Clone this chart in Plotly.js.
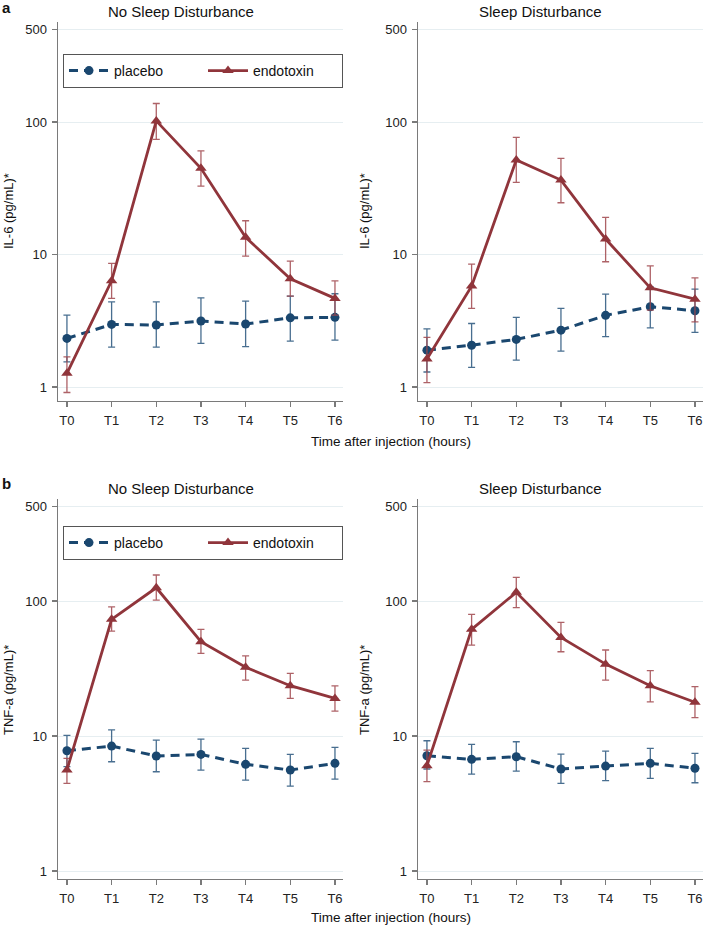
<!DOCTYPE html>
<html>
<head>
<meta charset="utf-8">
<script src="https://cdn.plot.ly/plotly-3.0.1.min.js"></script>
<style>html,body{margin:0;padding:0;background:#fff;}#chart{width:703px;height:927px;}</style>
</head>
<body>
<div id="chart"></div>
<script>
// ---- Data ----
const categories = ["T0", "T1", "T2", "T3", "T4", "T5", "T6"];
const yTickVals = [1, 10, 100, 500];
const yTickText = ["1", "10", "100", "500"];

// IL-6, No Sleep Disturbance
const il6NoPlacebo   = [2.33, 2.97, 2.94, 3.15, 2.99, 3.33, 3.36];
const il6NoPlaceboHi = [3.49, 4.40, 4.40, 4.72, 4.45, 4.86, 5.06];
const il6NoPlaceboLo = [1.55, 2.00, 2.00, 2.14, 2.02, 2.22, 2.26];
const il6NoEndo      = [1.27, 6.34, 102, 44.8, 13.5, 6.57, 4.67];
const il6NoEndoHi    = [1.69, 8.58, 138, 60.7, 18.0, 8.93, 6.34];
const il6NoEndoLo    = [0.91, 4.67, 74, 32.9, 9.75, 4.86, 3.49];

// IL-6, Sleep Disturbance
const il6DisPlacebo   = [1.90, 2.07, 2.29, 2.69, 3.48, 4.04, 3.77];
const il6DisPlaceboHi = [2.75, 3.02, 3.36, 3.93, 5.03, 5.71, 5.49];
const il6DisPlaceboLo = [1.30, 1.41, 1.60, 1.87, 2.40, 2.80, 2.59];
const il6DisEndo      = [1.63, 5.78, 51.7, 36.5, 13.1, 5.61, 4.61];
const il6DisEndoHi    = [2.37, 8.48, 76.7, 53.2, 19.1, 8.23, 6.68];
const il6DisEndoLo    = [1.08, 3.93, 35.1, 24.6, 8.83, 3.81, 3.11];

// TNF-a, No Sleep Disturbance
const tnfNoPlacebo   = [7.78, 8.43, 7.11, 7.31, 6.17, 5.60, 6.28];
const tnfNoPlaceboHi = [10.1, 11.1, 9.34, 9.50, 8.10, 7.31, 8.25];
const tnfNoPlaceboLo = [5.93, 6.45, 5.44, 5.60, 4.72, 4.26, 4.80];
const tnfNoEndo      = [5.60, 73.2, 125.5, 50.0, 32.3, 23.6, 19.0];
const tnfNoEndoHi    = [6.84, 90.7, 156, 61.7, 39.3, 29.1, 23.5];
const tnfNoEndoLo    = [4.46, 59.9, 101.7, 41.0, 26.0, 19.0, 15.3];

// TNF-a, Sleep Disturbance
const tnfDisPlacebo   = [7.14, 6.72, 7.03, 5.70, 5.99, 6.28, 5.77];
const tnfDisPlaceboHi = [9.23, 8.67, 9.07, 7.35, 7.74, 8.10, 7.44];
const tnfDisPlaceboLo = [5.70, 5.23, 5.50, 4.46, 4.67, 4.86, 4.51];
const tnfDisEndo      = [6.03, 61.7, 116, 53.8, 34.1, 23.6, 17.8];
const tnfDisEndoHi    = [7.87, 79.7, 150, 69.5, 43.4, 30.5, 23.2];
const tnfDisEndoLo    = [4.59, 47.2, 89.3, 42.1, 26.0, 17.9, 13.7];

// ---- Styling ----
const FONT = "Liberation Sans, Arial, Helvetica, sans-serif";
const NAVY = "#1a476f", NAVY_ERR = "rgba(40,85,125,0.85)";
const MAROON = "#90353b", MAROON_ERR = "rgba(160,70,76,0.85)";
const AX = "#7a7a7a";

function placeboTrace(y, hi, lo, xa, ya, legend, show) {
  return {
    type: "scatter", mode: "lines+markers", name: "placebo",
    x: categories, y: y, xaxis: xa, yaxis: ya, legend: legend, showlegend: show,
    line: {color: NAVY, width: 3, dash: "9px,6px"},
    marker: {color: NAVY, size: 9, symbol: "circle"},
    error_y: {type: "data", symmetric: false,
      array: hi.map((h, i) => h - y[i]), arrayminus: lo.map((l, i) => y[i] - l),
      color: NAVY_ERR, thickness: 1.3, width: 3.5}
  };
}
function endoTrace(y, hi, lo, xa, ya, legend, show) {
  return {
    type: "scatter", mode: "lines+markers", name: "endotoxin",
    x: categories, y: y, xaxis: xa, yaxis: ya, legend: legend, showlegend: show,
    line: {color: MAROON, width: 2.8},
    marker: {color: MAROON, size: 10, symbol: "triangle-up"},
    error_y: {type: "data", symmetric: false,
      array: hi.map((h, i) => h - y[i]), arrayminus: lo.map((l, i) => y[i] - l),
      color: MAROON_ERR, thickness: 1.3, width: 3.5}
  };
}

const data = [
  placeboTrace(il6NoPlacebo, il6NoPlaceboHi, il6NoPlaceboLo, "x", "y", "legend", true),
  endoTrace(il6NoEndo, il6NoEndoHi, il6NoEndoLo, "x", "y", "legend", true),
  placeboTrace(il6DisPlacebo, il6DisPlaceboHi, il6DisPlaceboLo, "x2", "y2", "legend", false),
  endoTrace(il6DisEndo, il6DisEndoHi, il6DisEndoLo, "x2", "y2", "legend", false),
  placeboTrace(tnfNoPlacebo, tnfNoPlaceboHi, tnfNoPlaceboLo, "x3", "y3", "legend2", true),
  endoTrace(tnfNoEndo, tnfNoEndoHi, tnfNoEndoLo, "x3", "y3", "legend2", true),
  placeboTrace(tnfDisPlacebo, tnfDisPlaceboHi, tnfDisPlaceboLo, "x4", "y4", "legend2", false),
  endoTrace(tnfDisEndo, tnfDisEndoHi, tnfDisEndoLo, "x4", "y4", "legend2", false)
];

const W = 703, H = 927;
const px = v => v / W;
const py = v => 1 - v / H;

function xAxis(l, r, anchor) {
  return {
    domain: [px(l), px(r)], anchor: anchor, type: "category",
    range: [-0.2, 6.18], showgrid: false, zeroline: false,
    showline: true, linecolor: AX, linewidth: 1.4,
    ticks: "outside", ticklen: 5, tickwidth: 1.2, tickcolor: AX,
    ticklabelstandoff: 2,
    tickfont: {family: FONT, size: 13, color: "#222"}
  };
}
function yAxis(bottom, top, anchor, range) {
  return {
    domain: [py(bottom), py(top)], anchor: anchor, type: "log",
    range: range, tickmode: "array", tickvals: yTickVals, ticktext: yTickText,
    showgrid: true, gridcolor: "#e6eef1", gridwidth: 1, zeroline: false,
    showline: true, linecolor: AX, linewidth: 1.4,
    ticks: "outside", ticklen: 5, tickwidth: 1.2, tickcolor: AX,
    ticklabelstandoff: 2,
    tickfont: {family: FONT, size: 13, color: "#222"}
  };
}

const topRange = [-0.105, 2.755];
const botRange = [-0.059, 2.756];

function ann(text, x, y, size, opts) {
  return Object.assign({text: text, x: px(x), y: py(y), xref: "paper", yref: "paper",
    xanchor: "center", yanchor: "middle", showarrow: false,
    font: {family: FONT, size: size, color: "#111"}}, opts || {});
}

const legendBase = {
  orientation: "h", xanchor: "left", yanchor: "top",
  bgcolor: "#fff", bordercolor: "#555", borderwidth: 1,
  font: {family: FONT, size: 14, color: "#111"},
  entrywidth: 84, itemwidth: 40, tracegroupgap: 0
};

const layout = {
  width: W, height: H, margin: {l: 0, r: 0, t: 0, b: 0},
  paper_bgcolor: "#fff", plot_bgcolor: "#fff",
  font: {family: FONT},
  xaxis: xAxis(58, 343, "y"),
  yaxis: yAxis(401, 22, "x", topRange),
  xaxis2: xAxis(418, 703, "y2"),
  yaxis2: yAxis(401, 22, "x2", topRange),
  xaxis3: xAxis(58, 343, "y3"),
  yaxis3: yAxis(879, 499, "x3", botRange),
  xaxis4: xAxis(418, 703, "y4"),
  yaxis4: yAxis(879, 499, "x4", botRange),
  legend: Object.assign({}, legendBase, {x: px(63), y: py(54)}),
  legend2: Object.assign({}, legendBase, {x: px(63), y: py(526)}),
  annotations: [
    ann("<b>a</b>", 6, 8, 15),
    ann("<b>b</b>", 6, 483, 15),
    ann("No Sleep Disturbance", 181, 12, 15),
    ann("Sleep Disturbance", 540, 12, 15),
    ann("No Sleep Disturbance", 181, 489, 15),
    ann("Sleep Disturbance", 540, 489, 15),
    ann("Time after injection (hours)", 391, 441, 13.5),
    ann("Time after injection (hours)", 391, 917, 13.5),
    ann("IL-6 (pg/mL)*", 8, 211, 13, {textangle: -90}),
    ann("IL-6 (pg/mL)*", 364, 211, 13, {textangle: -90}),
    ann("TNF-a (pg/mL)*", 8, 690, 13, {textangle: -90}),
    ann("TNF-a (pg/mL)*", 364, 690, 13, {textangle: -90})
  ]
};

Plotly.newPlot("chart", data, layout, {staticPlot: true, displayModeBar: false});
</script>
</body>
</html>
